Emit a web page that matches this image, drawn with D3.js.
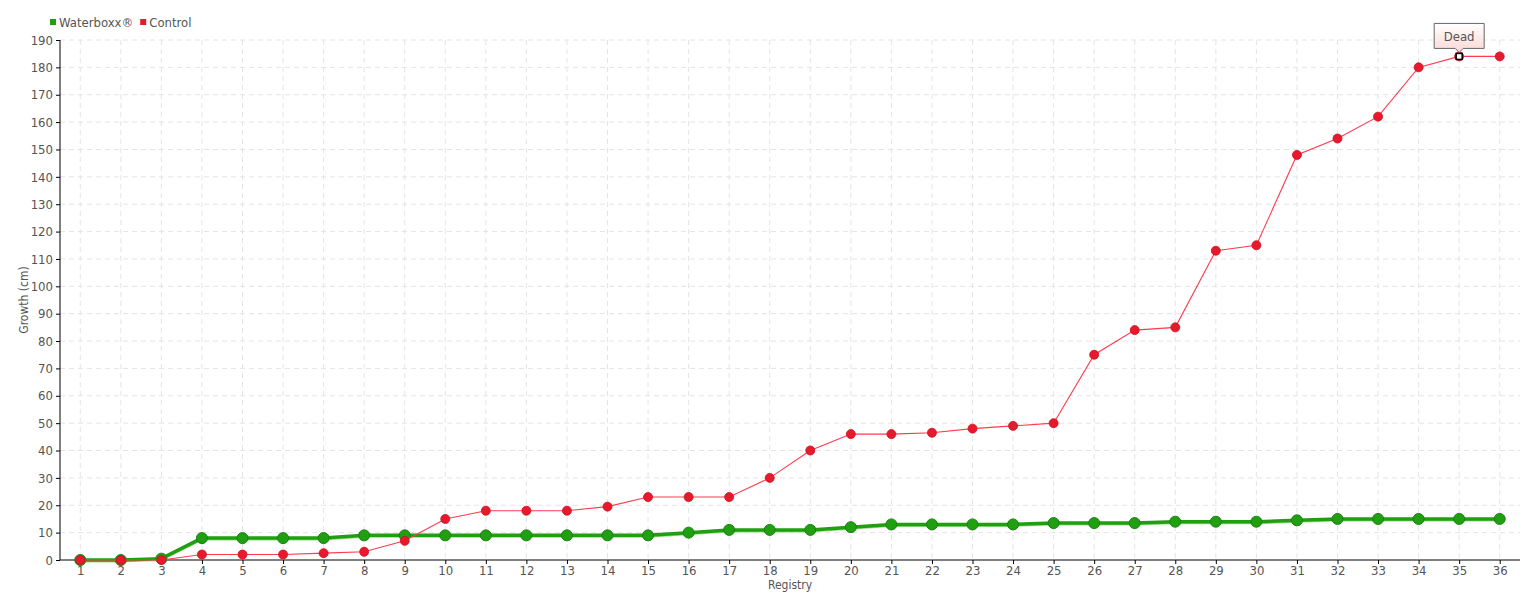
<!DOCTYPE html>
<html>
<head>
<meta charset="utf-8">
<script src="https://cdn.jsdelivr.net/npm/d3@7"></script>
<style>
  body { margin: 0; background: #fff; }
  svg text { font-family: "DejaVu Sans Condensed", "DejaVu Sans", sans-serif; fill: #555; }
  .grid line { stroke: #e4e4e4; stroke-dasharray: 5,4; }
  .axis path, .axis line { stroke: #000; }
</style>
</head>
<body>
<script>
var registry = d3.range(1, 37);
var waterboxx = [0, 0, 0.5, 8, 8, 8, 8, 9, 9, 9, 9, 9, 9, 9, 9, 10, 11, 11,
  11, 12, 13, 13, 13, 13, 13.5, 13.5, 13.5, 14, 14, 14, 14.5, 15, 15, 15, 15, 15];
var control = [0, 0, 0, 2, 2, 2, 2.5, 3, 7, 15, 18, 18, 18, 19.5, 23, 23, 23, 30,
  40, 46, 46, 46.5, 48, 49, 50, 75, 84, 85, 113, 115, 148, 154, 162, 180, 184, 184];
var yTicks = d3.range(0, 191, 10);
var deadIndex = 34; // registry 35 of the control series

var width = 1540, height = 600;
var margin = {top: 40, right: 20, bottom: 40, left: 60};

var svg = d3.select("body").append("svg")
  .attr("width", width)
  .attr("height", height);

var x = d3.scalePoint()
  .domain(registry)
  .range([margin.left, width - margin.right])
  .padding(0.5);

var y = d3.scaleLinear()
  .domain([0, 190])
  .range([height - margin.bottom, margin.top]);

// grid
svg.append("g").attr("class", "grid")
  .selectAll("line.h").data(yTicks.slice(1)).enter().append("line")
  .attr("x1", margin.left).attr("x2", width - margin.right)
  .attr("y1", function (d) { return y(d); }).attr("y2", function (d) { return y(d); });

svg.select(".grid")
  .selectAll("line.v").data(registry).enter().append("line")
  .attr("y1", margin.top).attr("y2", height - margin.bottom)
  .attr("x1", function (d) { return x(d); }).attr("x2", function (d) { return x(d); });

// axes
var xAxis = d3.axisBottom(x).tickSize(4).tickPadding(2);
var yAxis = d3.axisLeft(y).tickValues(yTicks).tickSize(4).tickPadding(3);

svg.append("g").attr("class", "axis")
  .attr("transform", "translate(0," + (height - margin.bottom) + ")")
  .call(xAxis)
  .call(function (g) { g.select(".domain").attr("d", "M" + margin.left + ",0H" + (width - margin.right)); })
  .selectAll("text").style("font-size", "13px");

svg.append("g").attr("class", "axis")
  .attr("transform", "translate(" + margin.left + ",0)")
  .call(yAxis)
  .call(function (g) { g.select(".domain").attr("d", "M0," + margin.top + "V" + (height - margin.bottom)); })
  .selectAll("text").style("font-size", "13px");

svg.append("text")
  .attr("x", (margin.left + width - margin.right) / 2)
  .attr("y", 589)
  .attr("text-anchor", "middle")
  .style("font-size", "12px")
  .text("Registry");

svg.append("text")
  .attr("transform", "translate(28," + ((margin.top + height - margin.bottom) / 2) + ") rotate(-90)")
  .attr("text-anchor", "middle")
  .style("font-size", "12px")
  .text("Growth (cm)");

var line = d3.line()
  .x(function (d, i) { return x(registry[i]); })
  .y(function (d) { return y(d); });

// waterboxx: light shadow line + thick line
svg.append("path").datum(waterboxx)
  .attr("d", line).attr("fill", "none")
  .attr("stroke", "#9bdc8c").attr("stroke-width", 2)
  .attr("transform", "translate(0,1.5)");
svg.append("path").datum(waterboxx)
  .attr("d", line).attr("fill", "none")
  .attr("stroke", "#20a010").attr("stroke-width", 3.5);

svg.append("g").selectAll("circle").data(waterboxx).enter().append("circle")
  .attr("cx", function (d, i) { return x(registry[i]); })
  .attr("cy", function (d) { return y(d); })
  .attr("r", 5.5)
  .attr("fill", "#20a010")
  .attr("stroke", "#1a7f12").attr("stroke-width", 1);

// control
svg.append("path").datum(control)
  .attr("d", line).attr("fill", "none")
  .attr("stroke", "#ff3b4e").attr("stroke-width", 1.1);

svg.append("g").selectAll("circle").data(control).enter().append("circle")
  .attr("cx", function (d, i) { return x(registry[i]); })
  .attr("cy", function (d) { return y(d); })
  .attr("r", 4.5)
  .attr("fill", "#e8192c")
  .attr("stroke", "#c8121f").attr("stroke-width", 0.8);

// "Dead" marker and tooltip
var dx = x(registry[deadIndex]), dy = y(control[deadIndex]);
svg.append("rect")
  .attr("x", dx - 3).attr("y", dy - 3).attr("width", 6).attr("height", 6)
  .attr("fill", "#fff").attr("stroke", "#000").attr("stroke-width", 1.5);

var grad = svg.append("defs").append("linearGradient")
  .attr("id", "tipGrad").attr("x1", 0).attr("y1", 0).attr("x2", 0).attr("y2", 1);
grad.append("stop").attr("offset", "0%").attr("stop-color", "#fff");
grad.append("stop").attr("offset", "100%").attr("stop-color", "#fbd6d6");

var tw = 50, th = 25, ty = dy - 8;
svg.append("path")
  .attr("d", "M" + (dx - tw / 2) + "," + (ty - th) + "h" + tw + "v" + th +
    "h" + (-(tw / 2 - 4)) + "l-4,4l-4,-4" + "h" + (-(tw / 2 - 4)) + "z")
  .attr("fill", "url(#tipGrad)").attr("stroke", "#666").attr("stroke-width", 1);
svg.append("text")
  .attr("x", dx).attr("y", ty - th / 2 + 5)
  .attr("text-anchor", "middle")
  .style("font-size", "13px")
  .text("Dead");

// legend
var legend = [["Waterboxx®", "#20a010"], ["Control", "#e8192c"]];
var lg = svg.append("g").attr("transform", "translate(50,22)");
var lx = 0;
legend.forEach(function (l) {
  lg.append("rect").attr("x", lx).attr("y", -3).attr("width", 6).attr("height", 6).attr("fill", l[1]);
  var t = lg.append("text").attr("x", lx + 9).attr("y", 5).style("font-size", "13px").text(l[0]);
  lx += 9 + t.node().getComputedTextLength() + 7;
});
</script>
</body>
</html>
